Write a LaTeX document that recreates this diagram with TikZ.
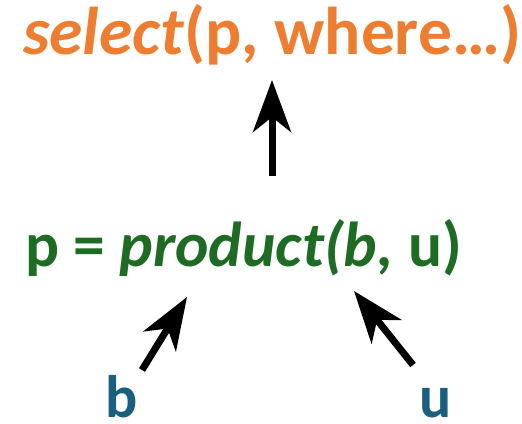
\documentclass[tikz,border=0pt]{standalone}
\usepackage{fontspec}
\setmainfont{Carlito}
\usetikzlibrary{arrows.meta}
\definecolor{selorange}{HTML}{ED7D31}
\definecolor{prodgreen}{HTML}{1E6B24}
\definecolor{varblue}{HTML}{1A5E80}
\begin{document}
\begin{tikzpicture}[x=1pt,y=-1pt,
  lbl/.style={anchor=base west,inner sep=0pt,font=\bfseries},
  flow/.style={line width=7pt,-{Stealth[length=52pt,width=38pt,inset=15pt]}}]
\useasboundingbox (0,0) rectangle (522,423);
\node[lbl,text=selorange,font=\bfseries\fontsize{67.5}{67.5}\selectfont] (sel) at (23,54) {\textit{select}(p, where…)};
\node[lbl,text=prodgreen,font=\bfseries\fontsize{63.5}{63.5}\selectfont] (prod) at (25,266) {p = \textit{product(b,} u)};
\node[lbl,text=varblue,text depth=0pt,font=\bfseries\fontsize{60}{60}\selectfont] (b) at (105,417) {b};
\node[lbl,text=varblue,text depth=0pt,font=\bfseries\fontsize{60}{60}\selectfont] (u) at (419,417) {u};
\coordinate (upS) at (272,176);
\coordinate (upE) at (272,80);
\coordinate (bS) at (142,370);
\coordinate (bE) at (187,297);
\coordinate (uS) at (413,365);
\coordinate (uE) at (354,291);
\draw[flow] (upS) -- (upE);
\draw[flow] (bS) -- (bE);
\draw[flow] (uS) -- (uE);
\end{tikzpicture}
\end{document}
